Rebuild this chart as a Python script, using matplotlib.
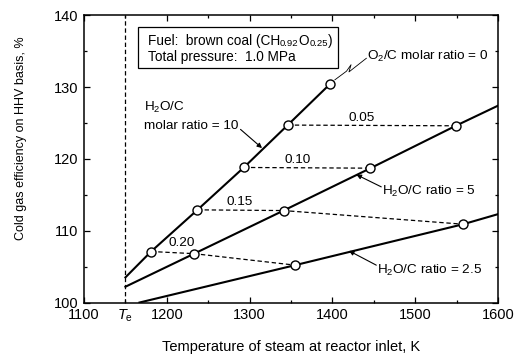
import matplotlib
matplotlib.use("Agg")
import matplotlib.pyplot as plt
from matplotlib.patches import Rectangle

plt.rcParams['font.family'] = ['Liberation Sans', 'DejaVu Sans']
plt.rcParams['mathtext.fontset'] = 'custom'
plt.rcParams['mathtext.rm'] = 'Liberation Sans'
plt.rcParams['mathtext.it'] = 'Liberation Sans:italic'

# steam temperature at reactor inlet (K) and cold gas efficiency (%)
# first entry of each series is where the line starts, circles follow
temp_r10 = [1150, 1181, 1237, 1293, 1346, 1397]
eff_r10 = [103.5, 107.1, 112.9, 118.8, 124.7, 130.4]

temp_r5 = [1150, 1233, 1341, 1446, 1549, 1600]
eff_r5 = [102.2, 106.8, 112.8, 118.7, 124.6, 127.4]

temp_r25 = [1167, 1355, 1558, 1600]
eff_r25 = [100.0, 105.2, 110.9, 112.3]

# O2/C molar ratio of the circles on each line
o2c_r10 = [0.20, 0.15, 0.10, 0.05, 0.0]
o2c_r5 = [0.20, 0.15, 0.10, 0.05]
o2c_r25 = [0.20, 0.15]

t_e = 1150
o2c_labels = {0.05: (1435, 125.7), 0.10: (1358, 119.8),
              0.15: (1288, 114.0), 0.20: (1218, 108.3)}

fs = 10.5   # ticks and x label
fa = 9.7    # annotations
fig = plt.figure(figsize=(5.22, 3.61), dpi=100)
ax = fig.add_axes([0.161, 0.162, 0.793, 0.796])

# circles sit on the lines, one per O2/C ratio
series = [(temp_r10[1:], eff_r10[1:], o2c_r10),
          (temp_r5[1:5], eff_r5[1:5], o2c_r5),
          (temp_r25[1:3], eff_r25[1:3], o2c_r25)]

# dashed lines joining equal O2/C ratio
for ratio in [0.05, 0.10, 0.15, 0.20]:
    xs, ys = [], []
    for t, e, r in series:
        for ti, ei, ri in zip(t, e, r):
            if ri == ratio:
                xs.append(ti)
                ys.append(ei)
    ax.plot(xs, ys, ls=(0, (3.5, 2.2)), color='k', lw=0.9, zorder=2)
    ax.text(*o2c_labels[ratio], f"{ratio:.2f}", fontsize=fa,
            ha='center', va='center')

# solid lines
for t, e in [(temp_r10, eff_r10), (temp_r5, eff_r5), (temp_r25, eff_r25)]:
    ax.plot(t, e, color='k', lw=1.5, zorder=3)

for t, e, r in series:
    ax.plot(t, e, ls='none', marker='o', ms=6.5, mfc='white', mec='k',
            mew=1.0, zorder=4)

ax.axvline(t_e, color='k', ls=(0, (3.5, 2.2)), lw=0.9, zorder=1)

# annotations
arrow = dict(arrowstyle='-|>', color='k', lw=0.8, mutation_scale=7,
             shrinkA=0, shrinkB=0)
ax.text(1172, 127.1, "H$_2$O/C", fontsize=fa, ha='left', va='center')
ax.text(1172, 124.6, "molar ratio = 10", fontsize=fa, ha='left', va='center')
ax.annotate("", xy=(1315, 121.5), xytext=(1289, 124.1), arrowprops=arrow)
ax.text(1460, 115.4, "H$_2$O/C ratio = 5", fontsize=fa, ha='left', va='center')
ax.annotate("", xy=(1429, 117.8), xytext=(1459, 116.1), arrowprops=arrow)
ax.text(1454, 104.4, "H$_2$O/C ratio = 2.5", fontsize=fa, ha='left',
        va='center')
ax.annotate("", xy=(1420, 107.2), xytext=(1453, 105.2), arrowprops=arrow)

# broken leader to the O2/C = 0 label
zig_t = [1403.0, 1417.0, 1422.5, 1420.0, 1441.0]
zig_e = [131.0, 132.2, 133.1, 132.1, 134.0]
ax.plot(zig_t, zig_e, color='k', lw=0.6)
ax.text(1442, 134.2, "O$_2$/C molar ratio = 0", fontsize=fa, ha='left',
        va='center')

# info box
fb = 9.8
ax.add_patch(Rectangle((1165, 132.6), 242, 5.7, fill=False, ec='k', lw=0.9))
t1 = ax.text(1177, 136.4, "Fuel:  brown coal (CH", fontsize=fb,
             ha='left', va='center')
t2 = ax.annotate("0.92", xy=(1, 0), xycoords=t1, fontsize=fb - 3,
                 ha='left', va='bottom')
t3 = ax.annotate("O", xy=(1, 0), xycoords=t2, fontsize=fb,
                 ha='left', va='bottom')
t4 = ax.annotate("0.25", xy=(1, 0), xycoords=t3, fontsize=fb - 3,
                 ha='left', va='bottom')
ax.annotate(")", xy=(1, 0), xycoords=t4, fontsize=fb, ha='left', va='bottom')
ax.text(1177, 134.2, "Total pressure:  1.0 MPa", fontsize=fb,
        ha='left', va='center')

# axes
ax.set_xlim(1100, 1600)
ax.set_ylim(100, 140)
ax.set_xticks([1100, 1200, 1300, 1400, 1500, 1600])
ax.set_xticks([1150, 1250, 1350, 1450, 1550], minor=True)
ax.set_xticklabels(['$T_{\\mathrm{e}}$', '', '', '', ''], minor=True)
ax.set_yticks([100, 110, 120, 130, 140])
ax.set_yticks([105, 115, 125, 135], minor=True)
ax.tick_params(which='both', direction='in', top=True, right=True,
               labelsize=fs, width=0.9, pad=4)
ax.tick_params(which='major', length=4)
ax.tick_params(which='minor', length=2.5)
for s in ax.spines.values():
    s.set_linewidth(1.1)

ax.set_xlabel("Temperature of steam at reactor inlet, K", fontsize=fs,
              labelpad=11)
ax.set_ylabel("Cold gas efficiency on HHV basis, %", fontsize=9.0)
ax.yaxis.set_label_coords(-0.137, 0.572)

fig.savefig("out.png", dpi=100)
